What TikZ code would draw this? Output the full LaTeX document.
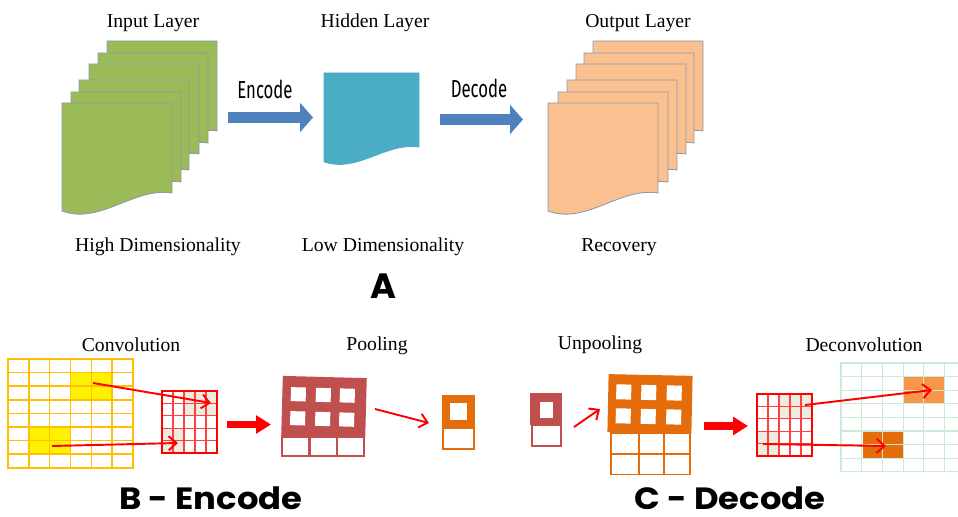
\documentclass[tikz,border=0pt]{standalone}
\usepackage{fontspec}
\setmainfont{Liberation Serif}
\newfontfamily\narrowfont[FakeStretch=0.68]{Fira Sans}
\newfontfamily\titlefont{Poppins}
\newfontfamily\widetitlefont[FakeStretch=1.1]{Poppins}
\usetikzlibrary{arrows.meta}

\definecolor{leafgreen}{HTML}{9BBB59}
\definecolor{tealblue}{HTML}{4BACC6}
\definecolor{peach}{HTML}{FAC090}
\definecolor{arrowblue}{HTML}{4F81BD}
\definecolor{brick}{HTML}{C0504D}
\definecolor{pumpkin}{HTML}{E46C0A}
\definecolor{lightorange}{HTML}{F79646}
\definecolor{gridamber}{HTML}{FFC000}
\definecolor{palegray}{HTML}{EEECE1}
\definecolor{mintgrid}{HTML}{C9EBD6}
\definecolor{pagegray}{HTML}{8C9BA8}

% a document page: top left corner, width, height of right edge, style
\newcommand{\docpage}[5]{%
  \filldraw[#5,line width=0.5pt]
    (#1,#2) -- ++(#3,0) -- ++(0,#4)
    .. controls +({-0.35*#3},{-0.067*#4}) and +({0.35*#3},{0.156*#4}) .. (#1,{#2+1.2*#4}) -- cycle;}

\begin{document}
\begin{tikzpicture}[x=0.02cm,y=-0.02cm,>=Latex,
    lbl/.style={font=\fontsize{11.2}{13}\selectfont,anchor=base},
    steplbl/.style={font=\narrowfont\fontsize{14}{16}\selectfont,anchor=base},
    partlbl/.style={font=\widetitlefont\bfseries\fontsize{17.5}{20}\selectfont,anchor=base,inner sep=0pt,text depth=0pt},
    fatarrow/.style={arrowblue,line width=6.2pt,-{Triangle[length=7.4pt,width=16.4pt]}},
    redblock/.style={red,line width=4pt,-{Triangle[length=8.5pt,width=10pt]}},
    redarrow/.style={red,line width=1.1pt,-{Straight Barb[length=4.5pt,width=8pt]}},
    thinbox/.style={line width=1pt}]
  \useasboundingbox (0,0) rectangle (958,517);

  % ---- A: autoencoder layers ----
  \foreach \px/\py in {107/41,98/53,89/64,79/80,71/92,62/103}
    \docpage{\px}{\py}{110}{90}{fill=leafgreen,draw=pagegray};
  \docpage{324}{73}{95}{74}{fill=tealblue,draw=tealblue};
  \foreach \px/\py in {593/41,584/53,576/64,567/80,558/92,548/103}
    \docpage{\px}{\py}{110}{90}{fill=peach,draw=pagegray};

  \coordinate (encfrom) at (228,117.5);
  \coordinate (encto) at (313,117.5);
  \coordinate (decfrom) at (440,119.5);
  \coordinate (decto) at (523,119.5);
  \draw[fatarrow] (encfrom) -- (encto);
  \draw[fatarrow] (decfrom) -- (decto);

  \node[lbl] (inlbl) at (153,28) {Input Layer};
  \node[lbl] (hidlbl) at (375,28) {Hidden Layer};
  \node[lbl] (outlbl) at (638,28) {Output Layer};
  \node[lbl] (highlbl) at (158,252) {High Dimensionality};
  \node[lbl] (lowlbl) at (383,252) {Low Dimensionality};
  \node[lbl] (reclbl) at (619,252) {Recovery};
  \node[steplbl] (enclbl) at (265,99) {Encode};
  \node[steplbl] (declbl) at (479,98) {Decode};
  \node[font=\titlefont\bfseries\fontsize{20}{24}\selectfont,anchor=base] (partA) at (383.5,298) {A};

  % ---- B: convolution and pooling ----
  \fill[yellow] (71,373) rectangle (112,400);
  \fill[yellow] (30,427) rectangle (71,455);
  \foreach \c in {0,...,5}
    \foreach \r in {0,...,7}
      \draw[gridamber,line width=0.8pt] ({8+\c*20.83},{359+\r*13.6}) rectangle ++(20.83,13.6);

  \fill[palegray] (184,391) rectangle (217,416);
  \fill[palegray] (162,428) rectangle (184,453);
  \foreach \c in {0,...,4}
    \foreach \r in {0,...,4}
      \draw[red!75,line width=0.6pt] ({162+\c*11},{391+\r*12.4}) rectangle ++(11,12.4);
  \draw[red,line width=0.8pt] (162,391) rectangle (217,453);

  \coordinate (ytop) at (93,383);
  \coordinate (ctop) at (211,403);
  \coordinate (ybot) at (52,446);
  \coordinate (cbot) at (178,443);
  \draw[redarrow] (ytop) -- (ctop);
  \draw[redarrow] (ybot) -- (cbot);

  \coordinate (convend) at (227,424.5);
  \coordinate (poolstart) at (271,424.5);
  \draw[redblock] (convend) -- (poolstart);

  % pooled feature map, big
  \begin{scope}[rotate around={-1.5:(324,407)}]
    \fill[brick] (282,377) rectangle (366,437);
    \foreach \hx in {298,323,347}
      \foreach \hy in {395,419}
        \fill[white] ({\hx-7.5},{\hy-7}) rectangle ++(15,14);
  \end{scope}
  \foreach \bx in {282,310,337}
    \draw[brick,thinbox] (\bx,437) rectangle ++(27,19);

  \coordinate (bigpool) at (375,409);
  \coordinate (smallpool) at (429,423);
  \draw[redarrow] (bigpool) -- (smallpool);

  \fill[pumpkin] (442,395) rectangle (475,428);
  \fill[white] (450,403) rectangle (467,420);
  \draw[pumpkin,thinbox] (443,428) rectangle (474,449);

  \node[lbl] (convlbl) at (131,352) {Convolution};
  \node[lbl] (poollbl) at (377,351) {Pooling};

  % ---- C: unpooling and deconvolution ----
  \fill[brick] (530,393) rectangle (562,425);
  \fill[white] (540,402) rectangle (553,418);
  \draw[brick,thinbox] (532,425) rectangle (561,446);

  \coordinate (unfrom) at (574,427);
  \coordinate (unto) at (600,409);
  \draw[redarrow] (unfrom) -- (unto);

  \begin{scope}[rotate around={-1.2:(650,404)}]
    \fill[pumpkin] (608,375) rectangle (692,433);
    \foreach \hx in {623.5,648.5,674}
      \foreach \hy in {392.5,416.5}
        \fill[white] ({\hx-7.5},{\hy-7.5}) rectangle ++(15,15);
  \end{scope}
  \foreach \bx/\bw in {611/28,639/25,664/26}
    \foreach \by in {433,454}
      \draw[pumpkin,thinbox] (\bx,\by) rectangle ++(\bw,20.5);

  \coordinate (unpoolend) at (704,426);
  \coordinate (deconvstart) at (748,426);
  \draw[redblock] (unpoolend) -- (deconvstart);

  \fill[palegray] (779,394) rectangle (812,419);
  \fill[palegray] (757,431) rectangle (779,456);
  \foreach \c in {0,...,4}
    \foreach \r in {0,...,4}
      \draw[red!75,line width=0.6pt] ({757+\c*11},{394+\r*12.4}) rectangle ++(11,12.4);
  \draw[red,line width=0.8pt] (757,394) rectangle (812,456);

  \begin{scope}
    \clip (830,355) rectangle (958,480);
    \fill[lightorange] (904,377) rectangle (945,404);
    \fill[pumpkin] (863,431) rectangle (904,458);
    \foreach \c in {0,...,5}
      \foreach \r in {0,...,7}
        \draw[mintgrid,line width=0.6pt] ({841+\c*20.7},{363+\r*13.6}) rectangle ++(20.7,13.6);
  \end{scope}

  \coordinate (dtop) at (805,405);
  \coordinate (otop) at (932,390);
  \coordinate (dbot) at (763,444);
  \coordinate (obot) at (886,446);
  \draw[redarrow] (dtop) -- (otop);
  \draw[redarrow] (dbot) -- (obot);

  \node[lbl] (unpoollbl) at (600,350) {Unpooling};
  \node[lbl] (deconvlbl) at (864,352) {Deconvolution};

  % part titles
  \node[partlbl] (partB) at (211,509) {B - Encode};
  \node[partlbl] (partC) at (730,509) {C - Decode};
\end{tikzpicture}
\end{document}
